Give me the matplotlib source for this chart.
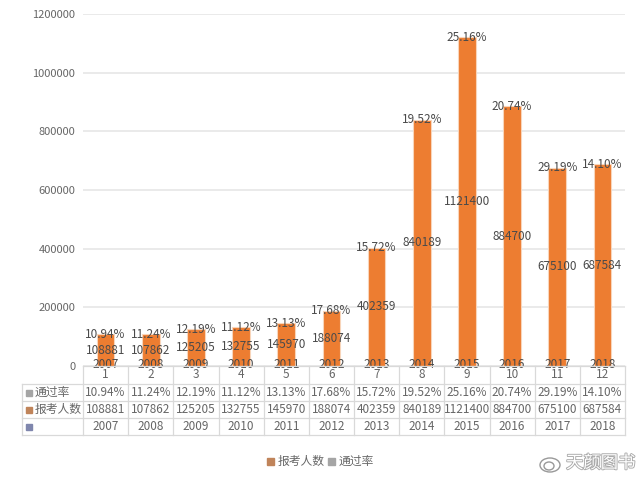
import matplotlib
matplotlib.use("Agg")
import matplotlib.pyplot as plt
import matplotlib.patheffects as pe
from matplotlib.patches import Rectangle, Ellipse

plt.rcParams['font.family'] = ['Noto Sans CJK SC', 'DejaVu Sans']

index_labels = ['1','2','3','4','5','6','7','8','9','10','11','12']
years = [2007,2008,2009,2010,2011,2012,2013,2014,2015,2016,2017,2018]
applicants = [108881,107862,125205,132755,145970,188074,402359,840189,1121400,884700,675100,687584]
pass_rates = ['10.94%','11.24%','12.19%','11.12%','13.13%','17.68%','15.72%','19.52%','25.16%','20.74%','29.19%','14.10%']
y_ticks = [0,200000,400000,600000,800000,1000000,1200000]
row_names = ['通过率','报考人数','']
row_colors = ['#a5a5a5','#c0845a','#7f86ad']

TXT = '#666666'
W, H = 640, 480
fig = plt.figure(figsize=(6.4, 4.8), dpi=100)
L, R, T, B = 83, 625, 14, 366
ax = fig.add_axes([L/W, 1-B/H, (R-L)/W, (B-T)/H])
x = list(range(12))
ax.bar(x, applicants, width=0.39, color='#ed7d31', edgecolor='#f8d5ba', linewidth=0.8, zorder=2)
ax.set_xlim(-0.5, 11.5)
ax.set_ylim(0, 1200000)
ax.set_yticks(y_ticks)
ax.set_yticklabels([str(v) for v in y_ticks], fontsize=8, color=TXT)
ax.tick_params(axis='y', length=0, pad=5.5)
ax.set_xticks([])
ax.grid(axis='y', color='#e6e6e6', lw=1.2, zorder=0)
for s in ax.spines.values():
    s.set_visible(False)

for i in x:
    ax.text(i, applicants[i]/2, str(applicants[i]), ha='center', va='center', fontsize=8.5, color='#4a4a4a', zorder=3)
    ax.annotate(pass_rates[i], (i, applicants[i]), xytext=(0, 0), textcoords='offset points',
                ha='center', va='center', fontsize=8.5, color='#4a4a4a', zorder=3)
    ax.annotate(str(years[i]), (i, 0), xytext=(0, 1), textcoords='offset points',
                ha='center', va='center', fontsize=8.5, color='#4a4a4a', zorder=3, annotation_clip=False)

# data table under the plot
rows_y = [366, 384, 401, 418, 435]
tb = fig.add_axes([0, 0, 1, 1], facecolor='none')
tb.set_xlim(0, W); tb.set_ylim(H, 0); tb.axis('off')
LC = '#d9d9d9'
col_w = (R-L)/12
for yy in rows_y:
    tb.plot([L if yy == 366 else 22, R], [yy, yy], color=LC, lw=0.9)
for k in range(13):
    tb.plot([L+k*col_w]*2, [366, 435], color=LC, lw=0.9)
tb.plot([22, 22], [384, 435], color=LC, lw=0.9)
cols = [index_labels, pass_rates, [str(v) for v in applicants], [str(v) for v in years]]
for r, vals in enumerate(cols):
    yc = (rows_y[r]+rows_y[r+1])/2
    for i, v in enumerate(vals):
        tb.text(L+(i+.5)*col_w, yc, v, ha='center', va='center', fontsize=8.5, color=TXT)
for r, name in enumerate(row_names):
    yc = (rows_y[r+1]+rows_y[r+2])/2
    tb.add_patch(Rectangle((26, yc-3), 6, 6, color=row_colors[r]))
    tb.text(35, yc, name, ha='left', va='center', fontsize=8.5, color=TXT)

# legend
tb.add_patch(Rectangle((267, 458), 7, 7, color='#c0845a'))
tb.text(278, 461, '报考人数', ha='left', va='center', fontsize=8.5, color=TXT)
tb.add_patch(Rectangle((328, 458), 7, 7, color='#a5a5a5'))
tb.text(339, 461, '通过率', ha='left', va='center', fontsize=8.5, color=TXT)

# watermark
tb.text(566, 463, '天颜图书', ha='left', va='center', fontsize=12.5, color='white',
        path_effects=[pe.withStroke(linewidth=1.3, foreground='#aaaaaa')])
tb.add_patch(Ellipse((550, 465), 20, 14, fill=False, ec='#999999', lw=1))
tb.add_patch(Ellipse((549, 466), 10, 8, fill=False, ec='#999999', lw=1))

fig.savefig('out.png', dpi=100)
